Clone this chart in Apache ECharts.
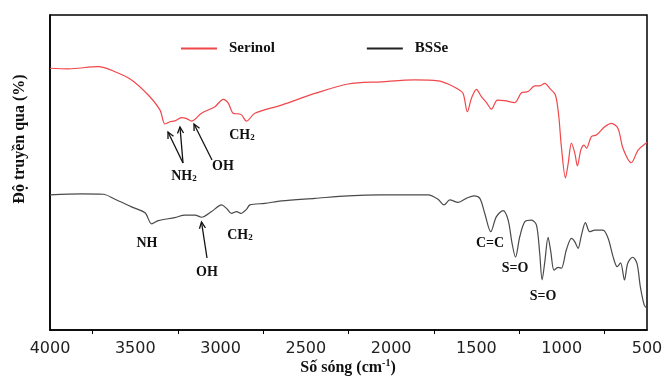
<!DOCTYPE html>
<html>
<head>
<meta charset="utf-8">
<script src="https://cdn.jsdelivr.net/npm/echarts@6/dist/echarts.min.js"></script>
<style>
  html, body { margin: 0; padding: 0; background: #fff; }
  #chart { width: 665px; height: 380px; }
</style>
</head>
<body>
<div id="chart"></div>
<script>
// FTIR spectra, wavenumber (cm-1) vs transmittance
const serinolWave = [4000, 3893, 3717, 3619, 3522, 3424, 3355, 3326, 3297, 3268, 3229, 3199, 3170, 3112, 3033, 2984, 2955, 2926, 2896, 2877, 2848, 2799, 2643, 2447, 2252, 2057, 1861, 1725, 1666, 1607, 1578, 1553, 1529, 1500, 1471, 1441, 1412, 1377, 1334, 1275, 1236, 1197, 1158, 1129, 1099, 1070, 1037, 1017, 1002, 978, 962, 943, 923, 908, 888, 869, 855, 826, 797, 748, 709, 670, 641, 592, 552, 500];
const serinolT = [83.1, 82.9, 83.6, 82.0, 79.4, 74.6, 69.8, 65.4, 66.1, 66.4, 67.4, 67.1, 66.3, 68.8, 70.9, 73.2, 72.0, 68.8, 68.6, 68.3, 66.3, 68.8, 71.4, 75.1, 78.1, 78.8, 79.4, 79.1, 78.1, 76.4, 75.1, 69.3, 73.6, 76.4, 74.1, 72.2, 70.1, 73.0, 72.8, 72.2, 75.3, 75.7, 77.5, 77.5, 78.3, 76.7, 74.6, 67.7, 58.2, 48.3, 52.9, 59.3, 56.1, 52.1, 57.1, 58.7, 57.7, 61.4, 61.9, 64.5, 65.6, 64.0, 57.7, 53.1, 57.1, 59.5];

const bsseWave = [4000, 3815, 3688, 3619, 3522, 3443, 3404, 3365, 3268, 3209, 3150, 3112, 3053, 2994, 2965, 2936, 2906, 2881, 2848, 2828, 2740, 2643, 2447, 2252, 2057, 1861, 1783, 1725, 1690, 1656, 1607, 1559, 1514, 1480, 1451, 1416, 1383, 1344, 1314, 1291, 1271, 1246, 1216, 1177, 1148, 1129, 1115, 1099, 1080, 1064, 1045, 1021, 1002, 973, 943, 923, 904, 884, 861, 836, 806, 758, 728, 699, 675, 655, 632, 613, 584, 559, 539, 516, 500];
const bsseT = [42.9, 43.2, 43.1, 41.5, 39.1, 37.2, 33.7, 34.7, 35.7, 36.5, 36.5, 35.8, 37.6, 39.7, 38.6, 37.0, 37.6, 37.0, 38.3, 39.7, 40.2, 41.0, 41.8, 42.6, 42.9, 42.9, 42.9, 41.5, 39.7, 41.3, 40.5, 41.8, 42.6, 41.8, 37.0, 31.2, 36.0, 37.9, 34.9, 27.5, 23.1, 29.6, 34.4, 34.9, 33.3, 24.3, 15.9, 21.7, 29.4, 24.9, 19.0, 19.9, 19.6, 25.4, 29.1, 28.0, 25.9, 30.2, 34.1, 31.2, 31.7, 31.7, 29.1, 23.3, 20.1, 21.3, 15.9, 21.2, 23.1, 21.2, 13.7, 7.9, 6.9];

const seriesNames = ['Serinol', 'BSSe'];
const seriesColors = ['#f0474b', '#4a4a4a'];
const legendColors = ['#f0474b', '#222'];
const xTicks = [4000, 3500, 3000, 2500, 2000, 1500, 1000, 500];

const serifBold = 'bold 14px "Liberation Serif", "Times New Roman", serif';

function zip(xs, ys) {
  return xs.map((x, i) => [x, ys[i]]);
}

// open arrow head + shaft, from tail (x1,y1) to tip (x2,y2)
function arrow(x1, y1, x2, y2) {
  const a = Math.atan2(y2 - y1, x2 - x1);
  const len = 7, spread = 0.45;
  const p1 = [x2 - len * Math.cos(a - spread), y2 - len * Math.sin(a - spread)];
  const p2 = [x2 - len * Math.cos(a + spread), y2 - len * Math.sin(a + spread)];
  const style = { stroke: '#111', lineWidth: 1.3, fill: null };
  return [
    { type: 'line', shape: { x1: x1, y1: y1, x2: x2, y2: y2 }, style: style },
    { type: 'polyline', shape: { points: [p1, [x2, y2], p2] }, style: style }
  ];
}

const subRich = {
  a: { font: serifBold, fill: '#111', lineHeight: 18, verticalAlign: 'bottom' },
  b: { font: 'bold 9px "Liberation Serif", serif', fill: '#111', lineHeight: 14, verticalAlign: 'bottom' }
};

function label(text, x, y) {
  return {
    type: 'text',
    x: x, y: y,
    style: {
      text: text, font: serifBold, fill: '#111',
      align: 'center', verticalAlign: 'middle', rich: subRich
    }
  };
}

const annotations = [
  label('{a|CH}{b|2}', 242, 133),
  label('{a|NH}{b|2}', 184, 174),
  label('OH', 223, 166),
  label('NH', 147, 243),
  label('{a|CH}{b|2}', 240, 233),
  label('OH', 207, 272),
  label('C=C', 490, 243),
  label('S=O', 515, 268),
  label('S=O', 543, 296),
  {
    // y axis title
    type: 'text', x: 20, y: 139, rotation: Math.PI / 2,
    style: {
      text: 'Độ truyền qua (%)', font: 'bold 16px "Liberation Serif", serif', fill: '#111',
      align: 'center', verticalAlign: 'middle'
    }
  },
  {
    // x axis title
    type: 'text', x: 348, y: 367,
    style: {
      text: '{a|Số sóng (cm}{s|-1}{a|)}',
      align: 'center', verticalAlign: 'middle',
      rich: {
        a: { font: 'bold 16px "Liberation Serif", serif', fill: '#111', lineHeight: 18, verticalAlign: 'bottom' },
        s: { font: 'bold 10px "Liberation Serif", serif', fill: '#111', lineHeight: 12, verticalAlign: 'top' }
      }
    }
  }
]
  .concat(arrow(183, 163, 168, 132))
  .concat(arrow(183, 163, 180, 127))
  .concat(arrow(212, 160, 194, 124))
  .concat(arrow(207, 258, 201.5, 222));

const chart = echarts.init(document.getElementById('chart'));

chart.setOption({
  backgroundColor: '#fff',
  animation: false,
  grid: {
    left: 50, right: 18, top: 15, bottom: 50,
    outerBoundsMode: 'none',
    show: true, borderColor: '#000', borderWidth: 1.5
  },
  legend: {
    top: 36, left: 176,
    itemWidth: 36, itemHeight: 2, itemGap: 92,
    textStyle: {
      fontFamily: '"Liberation Serif", serif', fontWeight: 'bold', fontSize: 15, color: '#111',
      padding: [0, 0, 0, 7]
    },
    data: seriesNames.map((n, i) => ({ name: n, icon: 'rect', itemStyle: { color: legendColors[i] } }))
  },
  xAxis: {
    type: 'value',
    inverse: true,
    min: 500, max: 4000, interval: 500,
    axisLine: { show: true, lineStyle: { color: '#000', width: 1.5 } },
    axisTick: { show: false },
    minorTick: { show: true, splitNumber: 2, length: 4, lineStyle: { color: '#000', width: 1 } },
    splitLine: { show: false },
    axisLabel: {
      fontFamily: '"DejaVu Sans", sans-serif', fontSize: 16, color: '#222', margin: 11,
      formatter: v => (xTicks.indexOf(v) >= 0 ? String(v) : '')
    }
  },
  yAxis: {
    type: 'value',
    min: 0, max: 100,
    axisLine: { show: true, lineStyle: { color: '#000', width: 1.5 } },
    axisTick: { show: false },
    axisLabel: { show: false },
    splitLine: { show: false }
  },
  series: [
    {
      name: seriesNames[0],
      type: 'line',
      data: zip(serinolWave, serinolT),
      smooth: 0.3,
      symbol: 'none',
      lineStyle: { color: seriesColors[0], width: 1.2 },
      itemStyle: { color: seriesColors[0] }
    },
    {
      name: seriesNames[1],
      type: 'line',
      data: zip(bsseWave, bsseT),
      smooth: 0.3,
      symbol: 'none',
      lineStyle: { color: seriesColors[1], width: 1.2 },
      itemStyle: { color: seriesColors[1] }
    }
  ],
  graphic: annotations
});
</script>
</body>
</html>
